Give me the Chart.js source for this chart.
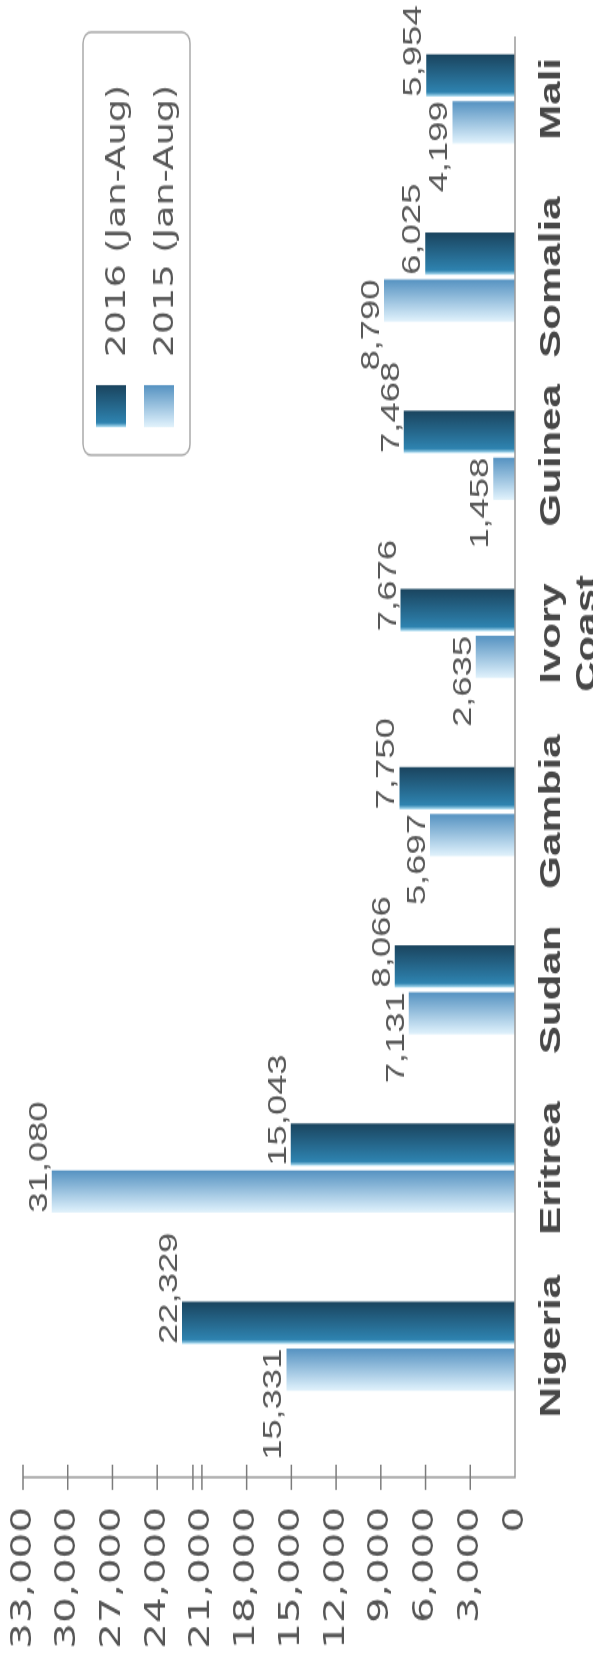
<!DOCTYPE html>
<html>
<head>
<meta charset="utf-8">
<script src="https://cdn.jsdelivr.net/npm/chart.js@4.4.1/dist/chart.umd.min.js"></script>
<style>
  html, body { margin: 0; padding: 0; background: #fff; overflow: hidden; }
  /* chart is laid out sideways and turned upright here */
  #wrap {
    position: absolute; left: 0; top: 0;
    width: 1189px; height: 593px;
    transform-origin: 0 0;
    transform: translate(0, 1665px) rotate(-90deg) scaleX(1.4003);
  }
  canvas { display: block; }
</style>
</head>
<body>
<div id="wrap"><canvas id="chart" width="1189" height="593"></canvas></div>
<script>
"use strict";

// --- Data --------------------------------------------------------------------

const COUNTRIES = ["Nigeria", "Eritrea", "Sudan", "Gambia", ["Ivory", "Coast"], "Guinea", "Somalia", "Mali"];
const ARRIVALS_2015 = [15331, 31080, 7131, 5697, 2635, 1458, 8790, 4199];
const ARRIVALS_2016 = [22329, 15043, 8066, 7750, 7676, 7468, 6025, 5954];
const SERIES = ["2015 (Jan-Aug)", "2016 (Jan-Aug)"];
const Y_MAX = 33000;
const Y_STEP = 3000;
const AXIS_BREAK = 21000;

// --- Style -------------------------------------------------------------------

const CAT_PCT = 0.527;
const BAR_PCT = 0.9;
const AXIS_GAP = 30;
const FONT = '"Liberation Sans", Arial, sans-serif';
const WIDE = '"DejaVu Sans", sans-serif';

const SHADES = [
  { edge: "#e2f2fb", light: "#d3e9f7", dark: "#5592c1" }, // 2015
  { edge: "#b2e0f4", light: "#2e83b0", dark: "#1a445e" }, // 2016
];

const fmt = (v) => Number(v).toLocaleString("en-US");

function shade(ctx, x0, x1, s) {
  const g = ctx.createLinearGradient(x0, 0, x1, 0);
  g.addColorStop(0, s.edge);
  g.addColorStop(0.1, s.light);
  g.addColorStop(1, s.dark);
  return g;
}

// gradient across each bar, from the bar's own slot on the category axis
function barFill(c) {
  const chart = c.chart;
  const x = chart.scales.x;
  const s = SHADES[c.datasetIndex];
  if (!x || !chart.chartArea) return s.dark;
  const slot = (x.width / COUNTRIES.length) * CAT_PCT / 2;
  const mid = x.getPixelForValue(c.dataIndex) + (c.datasetIndex - 0.5) * slot;
  const half = slot * BAR_PCT / 2;
  return shade(chart.ctx, mid - half, mid + half, s);
}

// --- Plugins -----------------------------------------------------------------

const axisLines = {
  id: "axisLines",
  afterDatasetsDraw(chart) {
    const { ctx, chartArea, scales: { y } } = chart;
    const ax = chartArea.left - AXIS_GAP;
    const base = y.getPixelForValue(0);
    ctx.save();
    ctx.strokeStyle = "#9a9a9a";
    ctx.lineWidth = 1.5;
    ctx.beginPath();
    ctx.moveTo(ax, y.getPixelForValue(Y_MAX));
    ctx.lineTo(ax, base);
    ctx.lineTo(chartArea.right - 19, base);
    ctx.stroke();
    ctx.strokeStyle = "#7c7c7c";
    const tick = (py) => {
      ctx.beginPath();
      ctx.moveTo(ax - 9, py);
      ctx.lineTo(ax + 9, py);
      ctx.stroke();
    };
    y.ticks.forEach((t) => {
      if (t.value === 0) return;
      const py = y.getPixelForValue(t.value);
      tick(py);
      if (t.value === AXIS_BREAK) tick(py - 9);
    });
    ctx.restore();
  },
};

const valueLabels = {
  id: "valueLabels",
  afterDatasetsDraw(chart) {
    const ctx = chart.ctx;
    const top = Math.max(...ARRIVALS_2015, ...ARRIVALS_2016);
    ctx.save();
    ctx.font = `26px ${FONT}`;
    ctx.fillStyle = "#575757";
    ctx.textBaseline = "alphabetic";
    chart.data.datasets.forEach((ds, di) => {
      chart.getDatasetMeta(di).data.forEach((bar, i) => {
        const v = ds.data[i];
        const fromLeft = di === 1 || v === top;
        ctx.textAlign = fromLeft ? "left" : "right";
        const tx = fromLeft ? bar.x - bar.width / 2 : bar.x + bar.width / 2;
        ctx.fillText(fmt(v), tx, bar.y - 5);
      });
    });
    ctx.restore();
  },
};

const legendBox = {
  id: "legendBox",
  afterDraw(chart) {
    const ctx = chart.ctx;
    const bx = 864, by = 83, bw = 302, bh = 107;
    ctx.save();
    ctx.fillStyle = "#fff";
    ctx.strokeStyle = "#ababab";
    ctx.lineWidth = 1.5;
    ctx.beginPath();
    ctx.roundRect(bx, by, bw, bh, 8);
    ctx.fill();
    ctx.stroke();
    ctx.font = `26px ${WIDE}`;
    ctx.textAlign = "left";
    ctx.textBaseline = "alphabetic";
    [1, 0].forEach((di, row) => {
      const sy = by + 13 + row * 48;
      const sx = bx + 20;
      ctx.fillStyle = shade(ctx, sx, sx + 30, SHADES[di]);
      ctx.fillRect(sx, sy, 30, 30);
      ctx.fillStyle = "#575757";
      ctx.fillText(chart.data.datasets[di].label, sx + 50, sy + 29);
    });
    ctx.restore();
  },
};

// --- Chart -------------------------------------------------------------------

new Chart(document.getElementById("chart"), {
  type: "bar",
  data: {
    labels: COUNTRIES,
    datasets: [
      { label: SERIES[0], data: ARRIVALS_2015, backgroundColor: barFill,
        categoryPercentage: CAT_PCT, barPercentage: BAR_PCT },
      { label: SERIES[1], data: ARRIVALS_2016, backgroundColor: barFill,
        categoryPercentage: CAT_PCT, barPercentage: BAR_PCT },
    ],
  },
  options: {
    responsive: false,
    animation: false,
    layout: { padding: { left: 12, right: 7, top: 23, bottom: 0 } },
    plugins: { legend: { display: false }, tooltip: { enabled: false } },
    scales: {
      x: {
        grid: { display: false, drawTicks: false },
        border: { display: false },
        ticks: {
          autoSkip: false, maxRotation: 0, padding: 19, color: "#474747",
          font: { family: FONT, size: 30, weight: "bold" },
        },
        afterFit: (s) => { s.height = 78; },
      },
      y: {
        min: 0, max: Y_MAX,
        grid: { display: false, drawTicks: false },
        border: { display: false },
        ticks: {
          stepSize: Y_STEP, padding: 51, color: "#555",
          font: { family: WIDE, size: 29 },
          callback: (v) => fmt(v),
        },
        afterFit: (s) => {
          s.width = 152;
          s.paddingTop = 0;
          s.paddingBottom = 0;
        },
      },
    },
  },
  plugins: [axisLines, valueLabels, legendBox],
});
</script>
</body>
</html>
